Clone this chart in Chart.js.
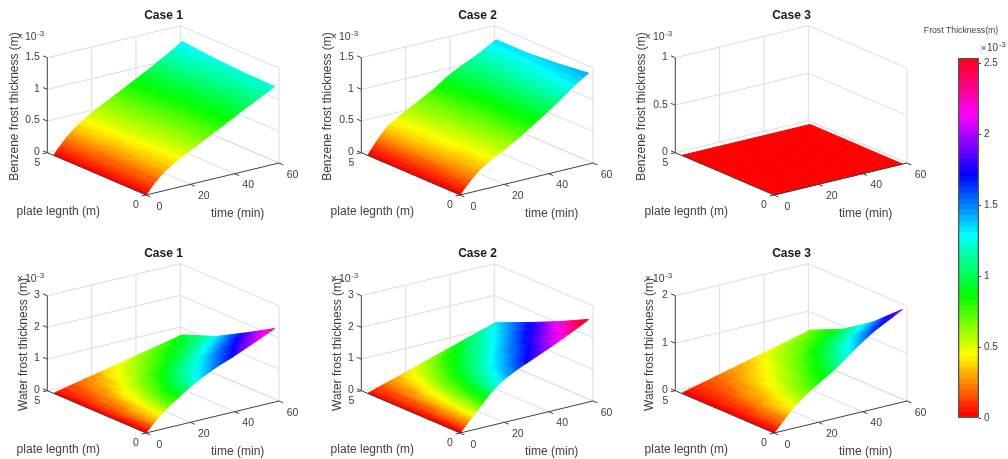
<!DOCTYPE html>
<html lang="en">

<head>
    <meta charset="UTF-8">
    <title>Frost Thickness</title>
    <script src="https://cdn.jsdelivr.net/npm/chart.js"></script>
    <style>
        html, body {
            margin: 0;
            padding: 0;
            background: #fff;
            overflow: hidden;
        }

        #figure {
            position: relative;
            width: 1008px;
            height: 459px;
        }

        canvas {
            position: absolute;
            filter: blur(0.6px);
        }
    </style>
</head>

<body>
    <div id="figure"></div>

    <script>
        // grid of the surfaces
        const timeMin = [0, 3, 6, 9, 12, 15, 18, 21, 24, 27, 30, 33, 36, 39, 42, 45, 48, 51, 54, 57, 58];
        const plateNodes = [0, 1.5, 3, 4.68];

        // frost thickness (x 10^-3 m), one list per plate position
        const benzene1L0 = [0, .125, .23, .315, .385, .445, .50, .555, .61, .665, .72, .775, .83, .885, .94, .995, 1.045, 1.10, 1.15, 1.205, 1.224];
        const benzene1L1 = [0, .125, .235, .32, .39, .455, .515, .57, .62, .675, .73, .785, .835, .89, .945, 1.00, 1.055, 1.11, 1.165, 1.215, 1.235];
        const benzene1L2 = [0, .125, .235, .33, .405, .47, .53, .585, .635, .69, .745, .80, .85, .905, .96, 1.015, 1.07, 1.125, 1.185, 1.24, 1.26];
        const benzene1L3 = [0, .125, .24, .335, .415, .48, .54, .595, .65, .705, .76, .815, .87, .925, .98, 1.04, 1.10, 1.16, 1.22, 1.29, 1.31];

        const benzene2L0 = [0, .125, .235, .325, .395, .455, .51, .57, .63, .69, .76, .83, .90, .97, 1.04, 1.12, 1.20, 1.28, 1.35, 1.415, 1.435];
        const benzene2L1 = [0, .13, .245, .34, .41, .47, .53, .585, .64, .70, .77, .835, .90, .97, 1.04, 1.105, 1.17, 1.24, 1.30, 1.36, 1.38];
        const benzene2L2 = [0, .135, .26, .36, .43, .49, .55, .605, .66, .72, .78, .845, .91, .975, 1.03, 1.09, 1.145, 1.20, 1.26, 1.32, 1.34];
        const benzene2L3 = [0, .14, .27, .38, .45, .51, .57, .625, .68, .74, .80, .87, .94, 1.00, 1.05, 1.10, 1.15, 1.20, 1.26, 1.32, 1.336];

        const benzene3All = [0, 0, 0, 0, 0, 0, 0, 0, 0, 0, 0, 0, 0, 0, 0, 0, 0, 0, 0, 0, 0];

        const water1L0 = [0, .22, .42, .59, .75, .89, 1.03, 1.16, 1.28, 1.39, 1.49, 1.58, 1.66, 1.74, 1.83, 1.92, 2.01, 2.10, 2.20, 2.29, 2.32];
        const water1L1 = [0, .16, .30, .42, .54, .65, .75, .85, .94, 1.03, 1.11, 1.18, 1.25, 1.32, 1.39, 1.46, 1.53, 1.61, 1.69, 1.76, 1.78];
        const water1L2 = [0, .10, .19, .27, .34, .41, .48, .55, .62, .68, .74, .80, .85, .91, .97, 1.03, 1.08, 1.14, 1.20, 1.26, 1.27];
        const water1L3 = [0, .05, .09, .14, .18, .23, .27, .32, .36, .41, .45, .50, .54, .59, .63, .68, .72, .77, .81, .86, .87];

        const water2L0 = [0, .22, .44, .66, .90, 1.10, 1.27, 1.40, 1.51, 1.61, 1.70, 1.79, 1.88, 1.97, 2.06, 2.16, 2.26, 2.36, 2.46, 2.57, 2.61];
        const water2L1 = [0, .17, .33, .50, .68, .83, .96, 1.07, 1.17, 1.25, 1.34, 1.42, 1.50, 1.58, 1.66, 1.75, 1.84, 1.93, 2.01, 2.11, 2.14];
        const water2L2 = [0, .12, .24, .35, .47, .58, .68, .77, .85, .93, 1.00, 1.07, 1.15, 1.22, 1.30, 1.38, 1.45, 1.53, 1.60, 1.69, 1.71];
        const water2L3 = [0, .07, .13, .20, .26, .33, .39, .46, .53, .59, .66, .72, .79, .85, .92, .99, 1.05, 1.12, 1.18, 1.25, 1.27];

        const water3L0 = [0, .15, .30, .44, .56, .67, .76, .85, .93, 1.02, 1.12, 1.23, 1.34, 1.44, 1.54, 1.63, 1.71, 1.78, 1.85, 1.93, 1.95];
        const water3L1 = [0, .10, .20, .30, .38, .46, .53, .60, .66, .73, .80, .88, .95, 1.03, 1.10, 1.17, 1.23, 1.29, 1.34, 1.40, 1.42];
        const water3L2 = [0, .07, .13, .19, .24, .30, .35, .40, .44, .50, .54, .60, .65, .71, .75, .81, .85, .90, .94, .99, 1.00];
        const water3L3 = [0, .04, .07, .11, .14, .18, .21, .25, .28, .32, .35, .39, .42, .46, .49, .53, .56, .60, .63, .67, .68];

        // axis ticks
        const timeTicks = [0, 20, 40, 60];
        const plateTicks = [0, 5];
        const zTicks15 = [0, 0.5, 1, 1.5];
        const zTicks1 = [0, 0.5, 1];
        const zTicks3 = [0, 1, 2, 3];
        const zTicks2 = [0, 1, 2];
        const colorbarTicks = [0, 0.5, 1, 1.5, 2, 2.5];
        const colorMax = 2.54;
        const colorLevels = 64;

        const FONT = '"Liberation Sans", Arial, sans-serif';
        const TEXT_COLOR = '#404040';
        const GRID_COLOR = '#dcdcdc';
        const AXIS_COLOR = '#404040';
        const PANEL_W = 327, PANEL_H = 221, TITLE_H = 22.4;

        Chart.defaults.font.family = FONT;

        const panels = [
            { title: 'Case 1', label: 'Benzene frost thickness (m)', rows: [benzene1L0, benzene1L1, benzene1L2, benzene1L3], zMax: 1.5, zTicks: zTicks15, left: 0, top: 0, labelX: 15 },
            { title: 'Case 2', label: 'Benzene frost thickness (m)', rows: [benzene2L0, benzene2L1, benzene2L2, benzene2L3], zMax: 1.5, zTicks: zTicks15, left: 314, top: 0, labelX: 13.5 },
            { title: 'Case 3', label: 'Benzene frost thickness (m)', rows: [benzene3All, benzene3All, benzene3All, benzene3All], zMax: 1, zTicks: zTicks1, left: 628, top: 0, labelX: 13.7 },
            { title: 'Case 1', label: 'Water frost thickness (m)', rows: [water1L0, water1L1, water1L2, water1L3], zMax: 3, zTicks: zTicks3, left: 0, top: 238, labelX: 23.3 },
            { title: 'Case 2', label: 'Water frost thickness (m)', rows: [water2L0, water2L1, water2L2, water2L3], zMax: 3, zTicks: zTicks3, left: 314, top: 238, labelX: 23.3 },
            { title: 'Case 3', label: 'Water frost thickness (m)', rows: [water3L0, water3L1, water3L2, water3L3], zMax: 2, zTicks: zTicks2, left: 628, top: 238, labelX: 22 }
        ];

        // same view for every panel (az/el of the matlab figure), result is in the chart's x/y units
        function project(t, L, z, zMax) {
            return {
                x: 146 + 133 * t / 60 - 19.74 * L,
                y: 195 - 32 * t / 60 - 8.46 * L - 95 * z / zMax
            };
        }

        function hsvColor(z) {
            const level = Math.min(colorLevels - 1, Math.max(0, Math.floor(z / colorMax * colorLevels)));
            return `hsl(${360 * level / colorLevels}, 100%, 50%)`;
        }

        function addCanvas(left, top, w, h) {
            const canvas = document.createElement('canvas');
            canvas.width = w;
            canvas.height = h;
            canvas.style.left = left + 'px';
            canvas.style.top = top + 'px';
            canvas.style.width = w + 'px';
            canvas.style.height = h + 'px';
            document.getElementById('figure').appendChild(canvas);
            return canvas;
        }

        // one filled cell of the surface, colour follows the height inside the cell
        function cellDataset(panel, i, j) {
            const { rows, zMax } = panel;
            const corner = (a, b) => project(timeMin[a], plateNodes[b], rows[b][a], zMax);
            const A = corner(i, j), B = corner(i + 1, j), C = corner(i + 1, j + 1), D = corner(i, j + 1);
            const zs = [rows[j][i], rows[j][i + 1], rows[j + 1][i + 1], rows[j + 1][i]];
            const zLo = Math.min(...zs), zHi = Math.max(...zs);
            const paint = (c) => {
                if (zHi === zLo) return hsvColor(zLo);
                const { x, y } = c.chart.scales;
                const ax = x.getPixelForValue(A.x), ay = y.getPixelForValue(A.y);
                // options get resolved once before the scales have a size
                if (!Number.isFinite(ax) || !Number.isFinite(ay)) return 'transparent';
                // direction in which the height grows on screen, from three corners
                const ux = x.getPixelForValue(B.x) - ax, uy = y.getPixelForValue(B.y) - ay, uz = zs[1] - zs[0];
                const vx = x.getPixelForValue(D.x) - ax, vy = y.getPixelForValue(D.y) - ay, vz = zs[3] - zs[0];
                const det = ux * vy - uy * vx;
                const gx = (uz * vy - uy * vz) / det, gy = (ux * vz - uz * vx) / det;
                const n = gx * gx + gy * gy;
                const g = c.chart.ctx.createLinearGradient(
                    ax + gx * (zLo - zs[0]) / n, ay + gy * (zLo - zs[0]) / n,
                    ax + gx * (zHi - zs[0]) / n, ay + gy * (zHi - zs[0]) / n);
                for (let s = 0; s <= 6; s++) {
                    g.addColorStop(s / 6, hsvColor(zLo + (zHi - zLo) * s / 6));
                }
                return g;
            };
            return {
                data: [A, B, C, D],
                showLine: true,
                fill: 'shape',
                pointRadius: 0,
                pointHoverRadius: 0,
                pointBackgroundColor: 'transparent',
                pointBorderColor: 'transparent',
                borderWidth: 1,
                backgroundColor: paint,
                borderColor: paint,
                order: 1
            };
        }

        function segment(p, q, color, order) {
            return {
                data: [p, q],
                showLine: true,
                fill: false,
                pointRadius: 0,
                pointHoverRadius: 0,
                borderWidth: 1,
                borderColor: color,
                order: order
            };
        }

        function gridDatasets(panel) {
            const m = panel.zMax;
            const out = [];
            const Lmax = plateTicks[plateTicks.length - 1];
            const tMax = timeTicks[timeTicks.length - 1];
            const light = (a, b) => out.push(segment(project(...a, m), project(...b, m), GRID_COLOR, 2));
            const dark = (a, b) => out.push(segment(project(...a, m), project(...b, m), AXIS_COLOR, 0));

            panel.zTicks.forEach((z) => {
                light([0, Lmax, z], [tMax, Lmax, z]);
                light([tMax, Lmax, z], [tMax, 0, z]);
            });
            timeTicks.slice(1).forEach((t) => {
                light([t, Lmax, 0], [t, Lmax, m]);
                light([t, 0, 0], [t, Lmax, 0]);
            });
            light([tMax, 0, 0], [tMax, 0, m]);

            dark([0, Lmax, 0], [0, Lmax, m]);
            dark([0, Lmax, 0], [0, 0, 0]);
            dark([0, 0, 0], [tMax, 0, 0]);
            timeTicks.forEach((t) => dark([t, 0, 0], [t, -0.22, 0]));
            plateTicks.forEach((L) => dark([0, L, 0], [-2, L, 0]));
            panel.zTicks.forEach((z) => dark([0, Lmax, z], [0, Lmax + 0.22, z]));
            return out;
        }

        // tick labels and axis names of the 3d box
        const boxText = {
            id: 'boxText',
            afterDatasetsDraw(chart, args, opts) {
                const panel = opts.panel;
                const { ctx } = chart;
                const { x, y } = chart.scales;
                const m = panel.zMax;
                const put = (text, px, py, align, font) => {
                    ctx.font = font;
                    ctx.textAlign = align;
                    ctx.textBaseline = 'middle';
                    ctx.fillText(text, px, py);
                };
                const px = (p) => x.getPixelForValue(p.x);
                const py = (p) => y.getPixelForValue(p.y);
                const tickFont = `10.5px ${FONT}`;
                const labelFont = `12px ${FONT}`;

                ctx.save();
                ctx.fillStyle = TEXT_COLOR;
                panel.zTicks.forEach((z) => {
                    const p = project(0, 5, z, m);
                    put(String(z), px(p) - 7.5, py(p) - 0.5, 'right', tickFont);
                });
                timeTicks.forEach((t) => {
                    const p = project(t, 0, 0, m);
                    put(String(t), px(p) + 13.5, py(p) + 11.7, 'center', tickFont);
                });
                plateTicks.forEach((L) => {
                    const p = project(0, L, 0, m);
                    put(String(L), px(p) - 10, py(p) + 10.4, 'center', tickFont);
                });
                put('plate legnth (m)', 58.3, 211.3, 'center', labelFont);
                put('time (min)', 237.7, 213.3, 'center', labelFont);

                // x 10^-3 above the z axis
                const expY = panel.top ? 41 : 37.5;
                put('\u00d7', 20, expY, 'center', `10px ${FONT}`);
                put('10', 25, expY, 'left', tickFont);
                put('-3', 37, expY - 3.5, 'left', `8px ${FONT}`);

                ctx.translate(panel.labelX, 106.5);
                ctx.rotate(-Math.PI / 2);
                put(panel.label, 0, 0, 'center', labelFont);
                ctx.restore();
            }
        };

        panels.forEach((panel) => {
            const surface = [];
            for (let i = 0; i < timeMin.length - 1; i++) {
                for (let j = 0; j < plateNodes.length - 1; j++) {
                    surface.push(cellDataset(panel, i, j));
                }
            }
            new Chart(addCanvas(panel.left, panel.top, PANEL_W, PANEL_H), {
                type: 'scatter',
                data: { datasets: surface.concat(gridDatasets(panel)) },
                options: {
                    responsive: false,
                    animation: false,
                    events: [],
                    layout: { padding: 0 },
                    scales: {
                        x: { type: 'linear', display: false, min: 0, max: PANEL_W },
                        y: { type: 'linear', display: false, reverse: true, min: TITLE_H, max: PANEL_H }
                    },
                    plugins: {
                        legend: { display: false },
                        tooltip: { enabled: false },
                        title: {
                            display: true,
                            text: panel.title,
                            color: '#1a1a1a',
                            font: { family: FONT, size: 12, weight: 'bold' },
                            padding: { top: 8, bottom: 0 }
                        },
                        boxText: { panel: panel }
                    }
                },
                plugins: [boxText]
            });
        });

        // colorbar: stacked levels of the hsv map on a real y scale
        const barLevels = [];
        for (let k = 0; k < colorLevels; k++) {
            barLevels.push({
                data: [[colorMax * k / colorLevels, colorMax * (k + 1) / colorLevels]],
                backgroundColor: `hsl(${360 * k / colorLevels}, 100%, 50%)`,
                borderWidth: 0,
                order: 1
            });
        }
        barLevels.push({
            data: [[0, colorMax]],
            backgroundColor: 'transparent',
            borderColor: '#555555',
            borderWidth: 1,
            borderSkipped: false,
            order: 0
        });

        const barText = {
            id: 'barText',
            afterDraw(chart) {
                const { ctx } = chart;
                ctx.save();
                ctx.fillStyle = TEXT_COLOR;
                ctx.textBaseline = 'middle';
                ctx.textAlign = 'center';
                ctx.font = `8.7px ${FONT}`;
                ctx.fillText('Frost Thickness(m)', 43, 31);
                ctx.textAlign = 'left';
                ctx.font = `9px ${FONT}`;
                ctx.fillText('\u00d7', 63, 49);
                ctx.font = `10px ${FONT}`;
                ctx.fillText('10', 69, 48);
                ctx.font = `7.5px ${FONT}`;
                ctx.fillText('-3', 81, 45);
                ctx.restore();
            }
        };

        new Chart(addCanvas(918, 0, 90, 459), {
            type: 'bar',
            data: { labels: [''], datasets: barLevels },
            options: {
                responsive: false,
                animation: false,
                events: [],
                layout: { padding: { left: 40, top: 58, bottom: 41, right: 0 } },
                datasets: { bar: { barPercentage: 1, categoryPercentage: 1, grouped: false } },
                scales: {
                    x: { display: false },
                    y: {
                        position: 'right',
                        min: 0,
                        max: colorMax,
                        border: { display: false },
                        grid: { drawOnChartArea: false, drawTicks: true, tickLength: 2, color: '#404040' },
                        afterBuildTicks: (axis) => { axis.ticks = colorbarTicks.map((v) => ({ value: v })); },
                        afterFit: (axis) => { axis.width = 29; },
                        ticks: {
                            color: TEXT_COLOR,
                            padding: 3,
                            font: { family: FONT, size: 10 },
                            callback: (v) => String(v)
                        }
                    }
                },
                plugins: {
                    legend: { display: false },
                    tooltip: { enabled: false }
                }
            },
            plugins: [barText]
        });
    </script>
</body>

</html>
